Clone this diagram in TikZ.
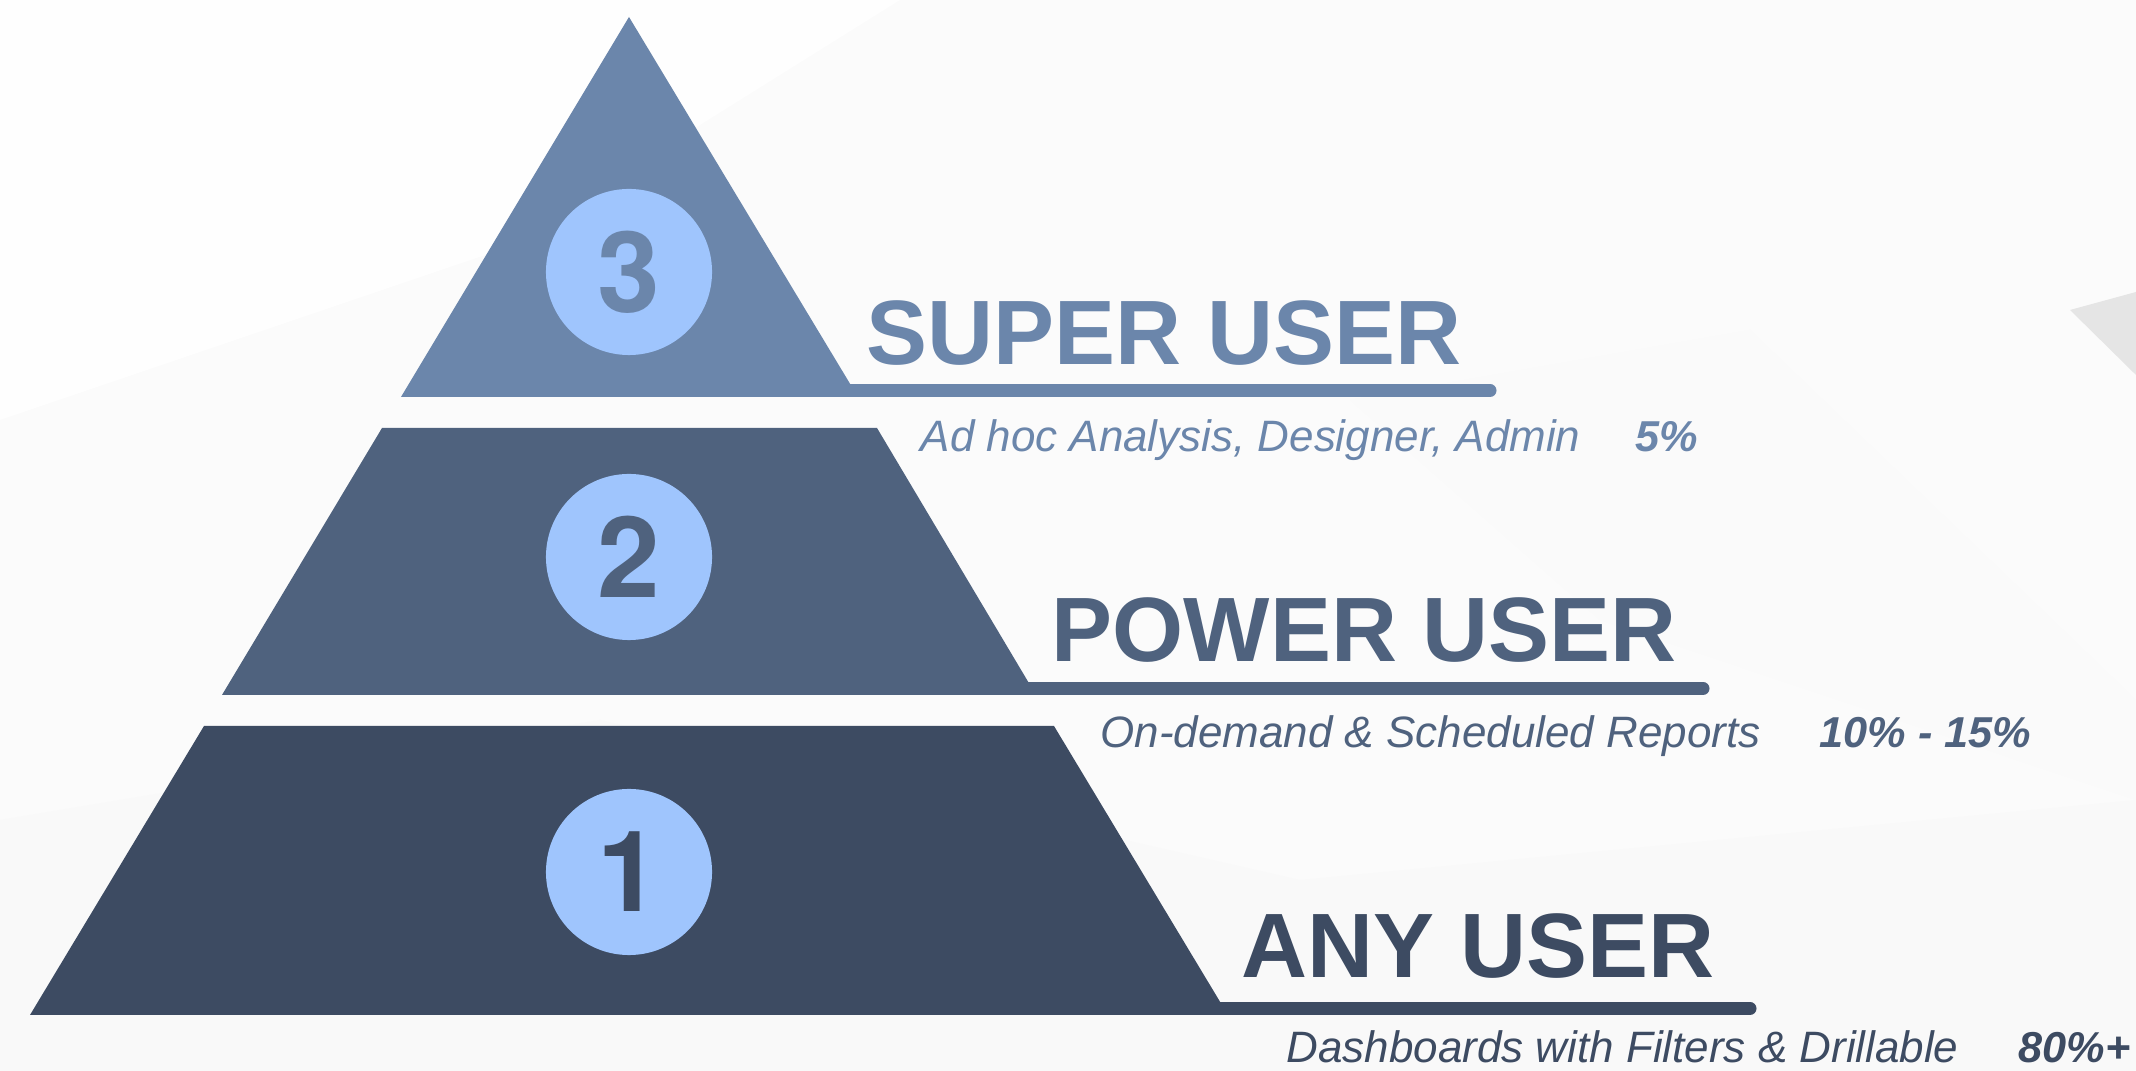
\documentclass[tikz,border=0pt]{standalone}
\usepackage{fontspec}
\setmainfont{Liberation Sans}
\newfontfamily\badgefont{TeX Gyre Heros}
\usetikzlibrary{positioning}
\definecolor{tierTop}{HTML}{6B86AB}
\definecolor{tierMid}{HTML}{4F627E}
\definecolor{tierLow}{HTML}{3D4B62}
\definecolor{badgeBlue}{HTML}{9FC5FD}
\begin{document}
\begin{tikzpicture}[x=0.01cm,y=-0.01cm,
    title/.style={anchor=base west,inner sep=0pt,font=\fontsize{26}{30}\selectfont\bfseries},
    note/.style={anchor=base west,inner sep=0pt,font=\fontsize{12.5}{15}\selectfont\itshape},
    pct/.style={anchor=base west,inner sep=0pt,font=\fontsize{12.3}{15}\selectfont\bfseries\itshape},
    badge/.style={circle,fill=badgeBlue,minimum size=1.66cm,inner sep=0pt,font=\badgefont\fontsize{32}{36}\selectfont\bfseries},
    rule/.style={line width=0.13cm,line cap=round}]
    % background
    \fill[gray!3] (0,0) rectangle (2136,1071);
    \useasboundingbox (0,0) rectangle (2136,1071);
    \fill[gray!5] (0,820) -- (600,720) -- (1300,880) -- (2136,800) -- (2136,1071) -- (0,1071) -- cycle;
    \fill[gray!4] (1350,400) -- (1750,330) -- (2136,700) -- (2136,800) -- (1600,620) -- cycle;
    \fill[gray!1] (0,0) -- (900,0) -- (500,250) -- (0,420) -- cycle;
    \fill[gray!20] (2070,310) -- (2136,292) -- (2136,375) -- cycle;

    % tier 3
    \fill[tierTop] (629,17) -- (858,397) -- (401,397) -- cycle;
    \draw[rule,tierTop] (820,390.5) -- (1490,390.5);
    \node[badge,text=tierTop] (c3) at (629,272) {3};
    \node[title,text=tierTop] (superT) at (866,365) {SUPER USER};
    \node[note,text=tierTop] (superN) at (920,452) {Ad hoc Analysis, Designer, Admin};
    \node[pct,text=tierTop] (superP) at (1635,452) {5\%};

    % tier 2
    \fill[tierMid] (382,428) -- (877,428) -- (1036,695) -- (222,695) -- cycle;
    \draw[rule,tierMid] (990,688.5) -- (1703,688.5);
    \node[badge,text=tierMid] (c2) at (629,557) {2};
    \node[title,text=tierMid] (powerT) at (1051,662) {POWER USER};
    \node[note,text=tierMid] (powerN) at (1100,748) {On-demand \& Scheduled Reports};
    \node[pct,text=tierMid] (powerP) at (1819,748) {10\% - 15\%};

    % tier 1
    \fill[tierLow] (204,726) -- (1054,726) -- (1228,1015) -- (30,1015) -- cycle;
    \draw[rule,tierLow] (1190,1008.5) -- (1750,1008.5);
    \node[badge,text=tierLow] (c1) at (629,872) {1};
    \node[title,text=tierLow] (anyT) at (1241,978) {ANY USER};
    \node[note,text=tierLow] (anyN) at (1286,1063) {Dashboards with Filters \& Drillable};
    \node[pct,text=tierLow] (anyP) at (2018,1063) {80\%+};
\end{tikzpicture}
\end{document}
